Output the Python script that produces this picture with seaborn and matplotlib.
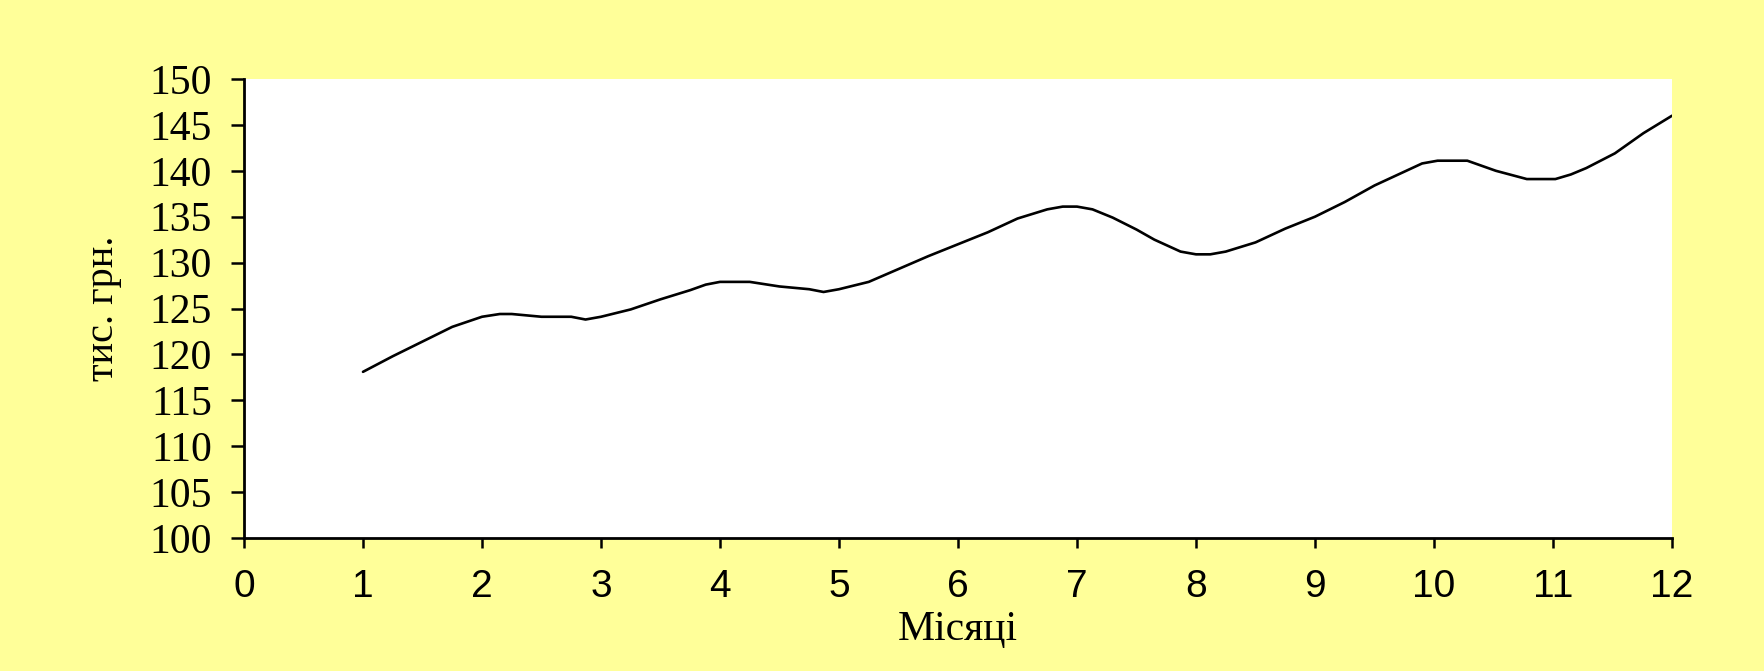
import matplotlib
matplotlib.use("Agg")
import matplotlib.pyplot as plt
import seaborn as sns
import pandas as pd

# Data (month, thousand UAH)
months = [1.0, 1.25, 1.5, 1.75, 2.0, 2.15, 2.25, 2.5, 2.75, 2.87, 3.0, 3.25, 3.5,
          3.75, 3.88, 4.0, 4.25, 4.5, 4.75, 4.87, 5.0, 5.25, 5.5, 5.75, 6.0, 6.25,
          6.5, 6.75, 6.88, 7.0, 7.13, 7.3, 7.5, 7.65, 7.87, 8.0, 8.12, 8.25, 8.5,
          8.75, 9.0, 9.25, 9.5, 9.75, 9.9, 10.03, 10.28, 10.52, 10.78, 11.02,
          11.15, 11.28, 11.52, 11.76, 12.0]
values = [118.1, 119.8, 121.4, 123.0, 124.1, 124.4, 124.4, 124.1, 124.1, 123.8,
          124.1, 124.9, 126.0, 127.0, 127.6, 127.9, 127.9, 127.4, 127.1, 126.8,
          127.1, 127.9, 129.3, 130.7, 132.0, 133.3, 134.8, 135.8, 136.1, 136.1,
          135.8, 134.9, 133.6, 132.5, 131.2, 130.9, 130.9, 131.2, 132.2, 133.7,
          135.0, 136.6, 138.4, 139.9, 140.8, 141.1, 141.1, 140.0, 139.1, 139.1,
          139.6, 140.3, 141.9, 144.1, 146.0]
x_ticks = list(range(0, 13))
y_ticks = list(range(100, 151, 5))
x_label = "Місяці"
y_label = "тис. грн."

df = pd.DataFrame({"month": months, "value": values})

sns.set_theme(style="white")
plt.rcParams["font.family"] = ["Liberation Serif", "DejaVu Serif"]
plt.rcParams["text.color"] = "black"
plt.rcParams["axes.labelcolor"] = "black"
plt.rcParams["xtick.color"] = "black"
plt.rcParams["ytick.color"] = "black"

W, H = 1765, 671
fig = plt.figure(figsize=(W / 100, H / 100), dpi=100, facecolor="#FFFF99")
left, right, bottom, top = 244, 1672, 538, 79
ax = fig.add_axes([left / W, 1 - bottom / H, (right - left) / W, (bottom - top) / H])
ax.set_facecolor("white")

sns.lineplot(data=df, x="month", y="value", ax=ax, color="black", linewidth=1.9,
             sort=False, estimator=None)

ax.set_xlim(0, 12)
ax.set_ylim(100, 150)
ax.set_xticks(x_ticks)
ax.set_yticks(y_ticks)
ax.set_xticklabels([str(t) for t in x_ticks], fontfamily="Liberation Sans",
                   fontsize=28, color="black")
ax.set_yticklabels([str(t) for t in y_ticks], fontfamily="Liberation Serif",
                   fontsize=30, color="black")

for s in ["top", "right"]:
    ax.spines[s].set_visible(False)
for s in ["left", "bottom"]:
    ax.spines[s].set_color("black")
    ax.spines[s].set_linewidth(2.0)

ax.tick_params(axis="y", which="major", direction="out", length=9.2, width=1.8,
               color="black", labelcolor="black", pad=14, left=True)
ax.tick_params(axis="x", which="major", direction="out", length=7, width=1.8,
               color="black", labelcolor="black", pad=15, bottom=True)
ax.grid(False)

ax.set_xlabel(x_label, fontfamily="Liberation Serif", fontsize=30, va="center",
              color="black")
ax.xaxis.set_label_coords(0.5, (bottom - 630) / (bottom - top))
ax.set_ylabel(y_label, fontfamily="Liberation Serif", fontsize=29, va="center",
              color="black")
ax.yaxis.set_label_coords((104 - left) / (right - left), 0.5)

fig.savefig("out.png", dpi=100, facecolor=fig.get_facecolor())
